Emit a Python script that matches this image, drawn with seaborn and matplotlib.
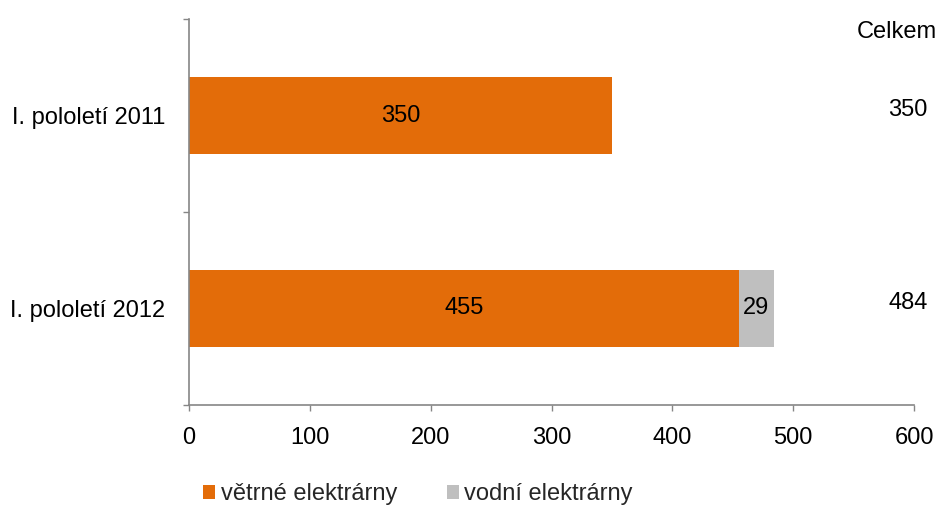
import matplotlib
matplotlib.use("Agg")
import matplotlib.pyplot as plt
import seaborn as sns
import pandas as pd
from matplotlib.patches import Patch
from matplotlib.ticker import FixedLocator

periods = ["I. pololetí 2011", "I. pololetí 2012"]
wind = [350, 455]
hydro = [0, 29]
series_names = ["větrné elektrárny", "vodní elektrárny"]
total_header = "Celkem"
x_ticks = [0, 100, 200, 300, 400, 500, 600]

ORANGE = "#E36C09"
GRAY = "#BFBFBF"
AXC = "#868686"

totals = [w + h for w, h in zip(wind, hydro)]
df = pd.DataFrame({"period": periods, "wind": wind, "hydro": hydro, "total": totals})

sns.set_theme(style="white")
plt.rcParams["font.family"] = ["Liberation Sans", "DejaVu Sans"]
FS = 17

fig = plt.figure(figsize=(9.42, 5.07), dpi=100)
ax = fig.add_axes([189 / 942, 1 - 405 / 507, (914 - 189) / 942, (405 - 19) / 507])

sns.barplot(data=df, y="period", x="total", color=GRAY, width=0.4, saturation=1, ax=ax, orient="h", linewidth=0)
sns.barplot(data=df, y="period", x="wind", color=ORANGE, width=0.4, saturation=1, ax=ax, orient="h", linewidth=0)

ax.set_xlim(0, 600)
ax.set_ylim(1.5, -0.5)
ax.set_xlabel("")
ax.set_ylabel("")

ax.xaxis.set_major_locator(FixedLocator(x_ticks))
ax.set_xticklabels([str(t) for t in x_ticks], fontsize=FS)
ax.tick_params(axis="x", which="major", direction="out", length=4, width=1, color=AXC, pad=12, labelcolor="black", bottom=True)

ax.yaxis.set_major_locator(FixedLocator([-0.5, 0.5, 1.5]))
ax.set_yticklabels(["", "", ""])
ax.yaxis.set_minor_locator(FixedLocator([0, 1]))
ax.set_yticklabels(periods, minor=True, fontsize=FS)
ax.tick_params(axis="y", which="major", direction="out", length=4, width=1, color=AXC, left=True)
ax.tick_params(axis="y", which="minor", length=0, pad=17, labelcolor="black", left=True)

for s in ["top", "right"]:
    ax.spines[s].set_visible(False)
for s in ["left", "bottom"]:
    ax.spines[s].set_color(AXC)
    ax.spines[s].set_linewidth(1.2)

for i, (w, h, t) in enumerate(zip(wind, hydro, totals)):
    ax.text(w / 2, i, str(w), ha="center", va="center", fontsize=FS, color="black")
    if h > 0:
        ax.text(w + h / 2, i, str(h), ha="center", va="center", fontsize=FS, color="black")
    ax.text(595, i - 0.03, str(t), ha="center", va="center", fontsize=FS, color="black", clip_on=False)
ax.text(586, -0.435, total_header, ha="center", va="center", fontsize=FS, color="black", clip_on=False)

handles = [Patch(facecolor=ORANGE, edgecolor="none"), Patch(facecolor=GRAY, edgecolor="none")]
fig.legend(handles, series_names, loc="center", bbox_to_anchor=(418 / 942, 1 - 494 / 507), ncol=2,
           frameon=False, fontsize=FS, handlelength=0.5, handleheight=0.55, handletextpad=0.25,
           columnspacing=2.1)

fig.savefig("out.png", dpi=100)
